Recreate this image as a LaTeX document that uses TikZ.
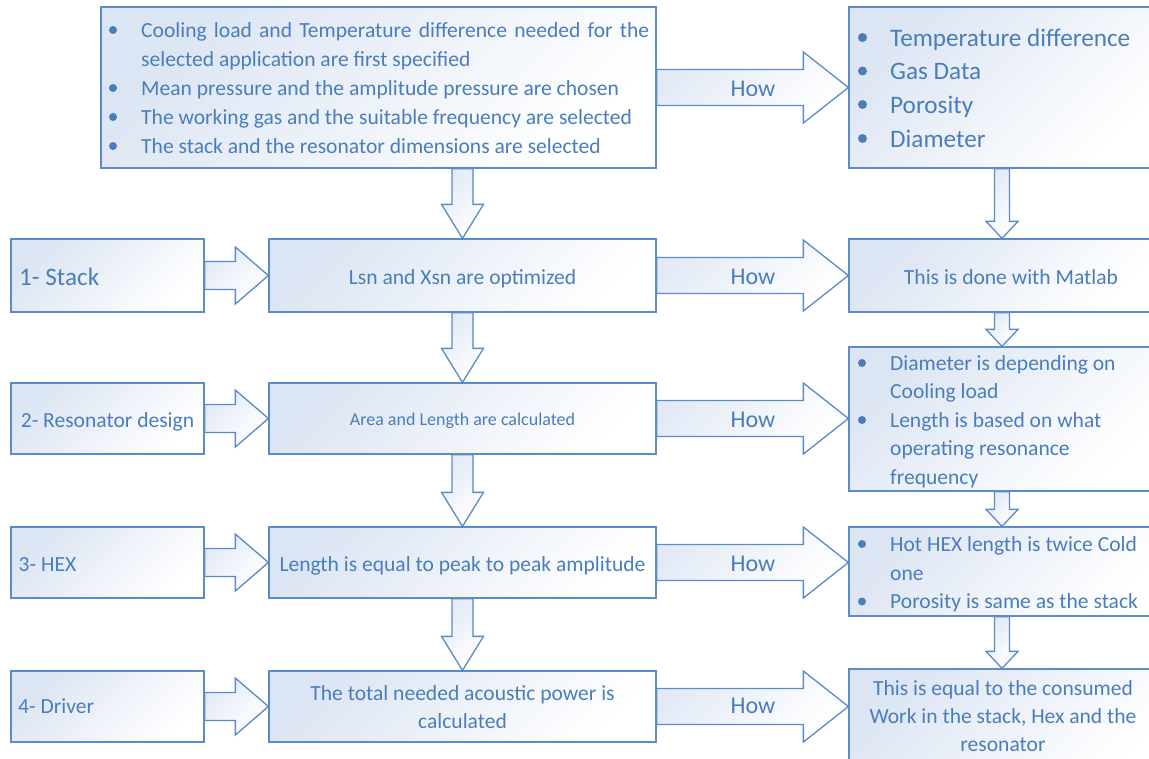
\documentclass[tikz,border=0pt]{standalone}
\usepackage{fontspec}
\setmainfont{Carlito}
\usetikzlibrary{calc}
\definecolor{bordc}{HTML}{5B8CC8}
\definecolor{txtc}{HTML}{4A7EBB}
\definecolor{tint}{HTML}{DCE5F3}
\newcommand\fszN{\fontsize{21.55pt}{29pt}\selectfont}
\newcommand\fszB{\fontsize{25.2pt}{34pt}\selectfont}
\newcommand\fszH{\fontsize{24pt}{29pt}\selectfont}
\newcommand\fszS{\fontsize{18pt}{22pt}\selectfont}
\tikzset{
  box/.style={draw=bordc, line width=1.3pt, top color=tint, bottom color=white, shading angle=45, inner sep=0pt},
  blk/.style={draw=bordc, line width=1.3pt, top color=tint!80, bottom color=white, shading angle=45, line join=miter},
  txt/.style={text=txtc, inner sep=0pt, font=\fszN},
  bdot/.style={circle, fill=txtc, inner sep=0pt, minimum size=8pt},
  howtxt/.style={text=txtc, inner sep=0pt, font=\fszH, anchor=base},
}
\newcommand\harr[5]{%
  \path (#1.east -| #2.west) coordinate (#1#2t);
  \filldraw[blk] ($(#1.east)+(0,-#3)$) -- ($(#1#2t)+(-#5,-#3)$) -- ($(#1#2t)+(-#5,-#4)$) -- (#1#2t)
    -- ($(#1#2t)+(-#5,#4)$) -- ($(#1#2t)+(-#5,#3)$) -- ($(#1.east)+(0,#3)$) -- cycle;}
\newcommand\varr[5]{%
  \path (#1.south -| #2.north) coordinate (#1#2s);
  \filldraw[blk] ($(#1#2s)+(-#3,0)$) -- ($(#2.north)+(-#3,-#5)$) -- ($(#2.north)+(-#4,-#5)$) -- (#2.north)
    -- ($(#2.north)+(#4,-#5)$) -- ($(#2.north)+(#3,-#5)$) -- ($(#1#2s)+(#3,0)$) -- cycle;}
\begin{document}
\begin{tikzpicture}[x=1pt,y=-1pt]
\useasboundingbox (0,0) rectangle (1149,758);
\clip (0,0) rectangle (1149,758);
\fill[white] (0,0) rectangle (1149,758);
% boxes
\node[box, minimum width=555pt, minimum height=161pt] (T) at (378.5,87.5) {};
\node[box, minimum width=306pt, minimum height=161pt] (TR) at (1002,87.5) {};
\node[box, minimum width=193pt, minimum height=73pt] (L1) at (107.5,275.5) {};
\node[box, minimum width=387pt, minimum height=73pt] (M1) at (462.5,275.5) {};
\node[box, minimum width=306pt, minimum height=73pt] (R1) at (1002,275.5) {};
\node[box, minimum width=193pt, minimum height=71pt] (L2) at (107.5,418.5) {};
\node[box, minimum width=387pt, minimum height=71pt] (M2) at (462.5,418.5) {};
\node[box, minimum width=306pt, minimum height=144pt] (R2) at (1002,419) {};
\node[box, minimum width=193pt, minimum height=71pt] (L3) at (107.5,562.5) {};
\node[box, minimum width=387pt, minimum height=71pt] (M3) at (462.5,562.5) {};
\node[box, minimum width=306pt, minimum height=89pt] (R3) at (1002,571.5) {};
\node[box, minimum width=193pt, minimum height=71pt] (L4) at (107.5,706.5) {};
\node[box, minimum width=387pt, minimum height=71pt] (M4) at (462.5,706.5) {};
\node[box, minimum width=306pt, minimum height=121pt] (R4) at (1002,729.5) {};
% arrows
\harr{T}{TR}{18}{35.5}{45}
\harr{M1}{R1}{18}{35.5}{45}
\harr{M2}{R2}{18}{35.5}{45}
\harr{M3}{R3}{18}{35.5}{45}
\harr{M4}{R4}{18}{35.5}{45}
\harr{L1}{M1}{14}{28.5}{33}
\harr{L2}{M2}{14}{28.5}{33}
\harr{L3}{M3}{14}{28.5}{33}
\harr{L4}{M4}{14}{28.5}{33}
\varr{T}{M1}{10.5}{21}{34}
\varr{M1}{M2}{10.5}{21}{34}
\varr{M2}{M3}{10.5}{21}{34}
\varr{M3}{M4}{10.5}{21}{34}
\varr{TR}{R1}{7.5}{16}{17}
\varr{R1}{R2}{7.5}{16}{17}
\varr{R2}{R3}{7.5}{16}{17}
\varr{R3}{R4}{7.5}{16}{17}
% top box text
\node[bdot] (tb1) at (113,30) {};
\node[bdot] (tb3) at (113,88) {};
\node[bdot] (tb4) at (113,117) {};
\node[bdot] (tb5) at (113,146) {};
\node[txt, anchor=base west] (t1) at (141,37) {\makebox[508pt][s]{Cooling load and Temperature difference needed for the}};
\node[txt, anchor=base west] (t2) at (141,66) {selected application are first specified};
\node[txt, anchor=base west] (t3) at (141,95) {Mean pressure and the amplitude pressure are chosen};
\node[txt, anchor=base west] (t4) at (141,124) {The working gas and the suitable frequency are selected};
\node[txt, anchor=base west] (t5) at (141,153) {The stack and the resonator dimensions are selected};
% top right text
\node[bdot, minimum size=9pt] (rb1) at (862.5,37.5) {};
\node[bdot, minimum size=9pt] (rb2) at (862.5,71) {};
\node[bdot, minimum size=9pt] (rb3) at (862.5,104.5) {};
\node[bdot, minimum size=9pt] (rb4) at (862.5,138.5) {};
\node[txt, font=\fszB, anchor=base west] (r01) at (890,46) {Temperature difference};
\node[txt, font=\fszB, anchor=base west] (r02) at (890,79.5) {Gas Data};
\node[txt, font=\fszB, anchor=base west] (r03) at (890,113) {Porosity};
\node[txt, font=\fszB, anchor=base west] (r04) at (890,147) {Diameter};
% How labels
\node[howtxt] (h0) at (753,96.5) {How};
\node[howtxt] (h1) at (753,284.5) {How};
\node[howtxt] (h2) at (753,427) {How};
\node[howtxt] (h3) at (753,571) {How};
\node[howtxt] (h4) at (753,713) {How};
% left column
\node[txt, font=\fszB, anchor=base west] (l1t) at (19,285) {1- Stack};
\node[txt, anchor=base] (l2t) at (107.5,427) {2- Resonator design};
\node[txt, anchor=base west] (l3t) at (18.5,571) {3- HEX};
\node[txt, anchor=base west] (l4t) at (18,713) {4- Driver};
% middle column
\node[txt, anchor=base] (m1t) at (462.5,284) {Lsn and Xsn are optimized};
\node[txt, font=\fszS, anchor=base] (m2t) at (462.5,425) {Area and Length are calculated};
\node[txt, anchor=base] (m3t) at (462.5,571) {Length is equal to peak to peak amplitude};
\node[txt, anchor=base] (m4a) at (462.5,700) {The total needed acoustic power is};
\node[txt, anchor=base] (m4b) at (462.5,728) {calculated};
% right column
\node[txt, anchor=base] (r1t) at (1011,284) {This is done with Matlab};
\node[bdot] (r2b1) at (862,363) {};
\node[bdot] (r2b2) at (862,420) {};
\node[txt, anchor=base west] (r2a) at (890,370) {Diameter is depending on};
\node[txt, anchor=base west] (r2b) at (890,398.5) {Cooling load};
\node[txt, anchor=base west] (r2c) at (890,427) {Length is based on what};
\node[txt, anchor=base west] (r2d) at (890,455.5) {operating resonance};
\node[txt, anchor=base west] (r2e) at (890,484) {frequency};
\node[bdot] (r3b1) at (862,544) {};
\node[bdot] (r3b2) at (862,601.5) {};
\node[txt, anchor=base west] (r3a) at (890,551.5) {Hot HEX length is twice Cold};
\node[txt, anchor=base west] (r3b) at (890,580) {one};
\node[txt, anchor=base west] (r3c) at (890,608.5) {Porosity is same as the stack};
\node[txt, anchor=base] (r4a) at (1003,695) {This is equal to the consumed};
\node[txt, anchor=base] (r4b) at (1003,723) {Work in the stack, Hex and the};
\node[txt, anchor=base] (r4c) at (1003,751) {resonator};
\end{tikzpicture}
\end{document}
